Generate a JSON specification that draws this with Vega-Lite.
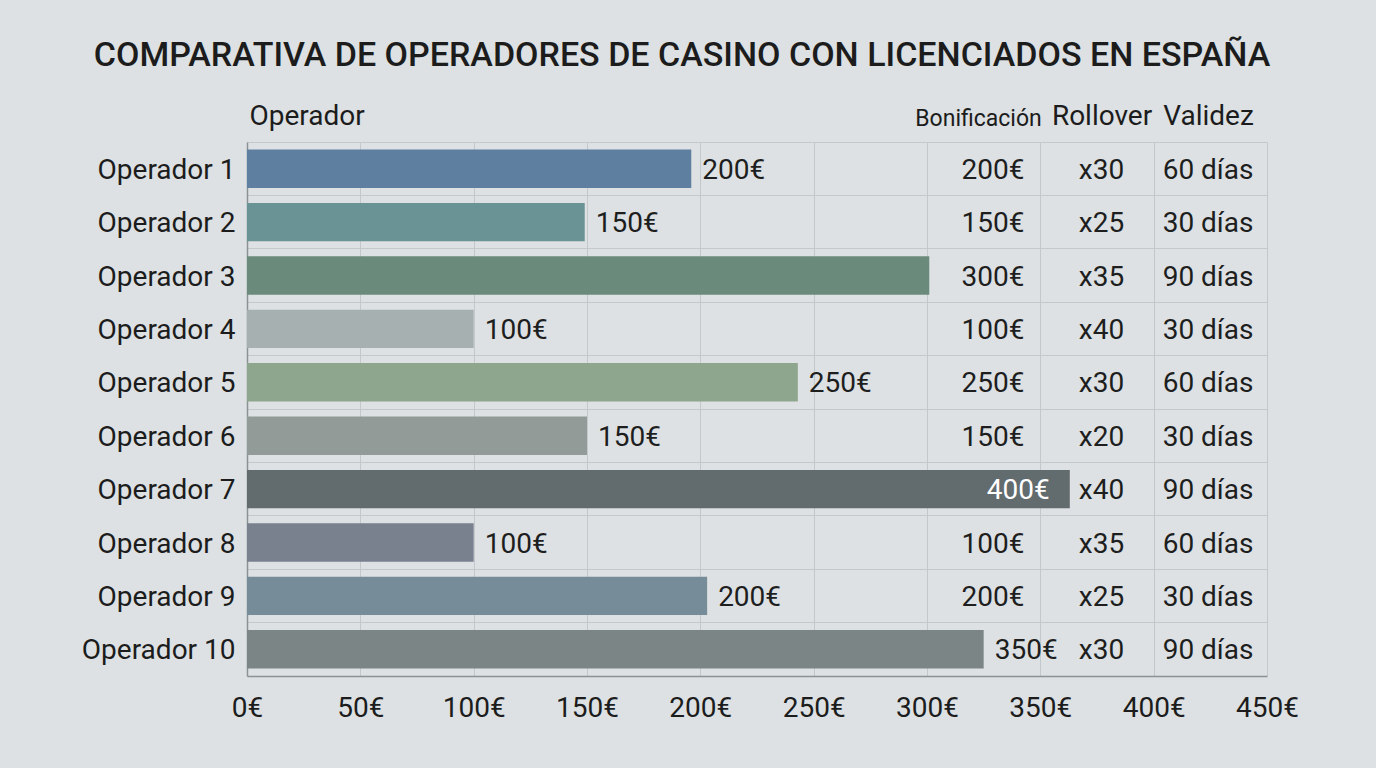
{
  "$schema": "https://vega.github.io/schema/vega-lite/v6.json",
  "width": 1020,
  "height": 534,
  "autosize": {"type": "none"},
  "padding": {"left": 247, "top": 142, "right": 109, "bottom": 92},
  "background": "#dde1e3",
  "title": {
    "text": "COMPARATIVA DE OPERADORES DE CASINO CON LICENCIADOS EN ESPAÑA",
    "font": "Roboto", "fontSize": 34, "fontWeight": 500, "color": "#1c1c1c",
    "anchor": "middle", "dx": -75, "offset": 29
  },
  "config": {
    "view": {"stroke": null},
    "font": "Roboto",
    "text": {"font": "Roboto", "fontSize": 28, "color": "#1e1e1e", "baseline": "middle", "dy": 2}
  },
  "data": {
    "values": [
      {"operador": "Operador 1", "largo": 196, "bonificacion": "200€", "rollover": "x30", "validez": "60 días"},
      {"operador": "Operador 2", "largo": 149, "bonificacion": "150€", "rollover": "x25", "validez": "30 días"},
      {"operador": "Operador 3", "largo": 301, "bonificacion": "300€", "rollover": "x35", "validez": "90 días"},
      {"operador": "Operador 4", "largo": 100, "bonificacion": "100€", "rollover": "x40", "validez": "30 días"},
      {"operador": "Operador 5", "largo": 243, "bonificacion": "250€", "rollover": "x30", "validez": "60 días"},
      {"operador": "Operador 6", "largo": 150, "bonificacion": "150€", "rollover": "x20", "validez": "30 días"},
      {"operador": "Operador 7", "largo": 363, "bonificacion": "400€", "rollover": "x40", "validez": "90 días"},
      {"operador": "Operador 8", "largo": 100, "bonificacion": "100€", "rollover": "x35", "validez": "60 días"},
      {"operador": "Operador 9", "largo": 203, "bonificacion": "200€", "rollover": "x25", "validez": "30 días"},
      {"operador": "Operador 10", "largo": 325, "bonificacion": "350€", "rollover": "x30", "validez": "90 días"}
    ]
  },
  "encoding": {
    "y": {
      "field": "operador", "type": "nominal", "sort": null,
      "scale": {"paddingInner": 0, "paddingOuter": 0},
      "axis": {
        "title": "Operador", "titleAngle": 0, "titleAlign": "left", "titleX": 2, "titleY": -18,
        "titleBaseline": "alphabetic", "titleFontSize": 28, "titleFontWeight": "normal", "titleColor": "#1c1c1c", "titleFont": "Roboto",
        "labelFontSize": 28, "labelColor": "#1c1c1c", "labelPadding": 12, "labelFont": "Roboto", "labelOffset": 2,
        "ticks": false, "domainColor": "#8c9294", "domainWidth": 1.5,
        "grid": true, "gridColor": "#c3c8cb", "gridWidth": 1, "bandPosition": 0
      }
    }
  },
  "layer": [
    {
      "mark": {"type": "bar", "height": {"band": 0.72}},
      "encoding": {
        "x": {
          "field": "largo", "type": "quantitative",
          "scale": {"domain": [0, 450], "nice": false},
          "axis": {
            "values": [0, 50, 100, 150, 200, 250, 300, 350, 400, 450],
            "labelExpr": "datum.value + '€'", "title": null,
            "grid": true, "gridColor": "#c3c8cb", "ticks": false,
            "labelFontSize": 28, "labelColor": "#1c1c1c", "labelFont": "Roboto", "labelPadding": 18,
            "labelFlush": false, "labelOverlap": false,
            "domainColor": "#8c9294", "domainWidth": 1.5
          }
        },
        "color": {
          "field": "operador", "type": "nominal", "legend": null,
          "scale": {
            "domain": ["Operador 1", "Operador 2", "Operador 3", "Operador 4", "Operador 5", "Operador 6", "Operador 7", "Operador 8", "Operador 9", "Operador 10"],
            "range": ["#5e7f9f", "#6a9396", "#6a8b7b", "#a6b0b0", "#8ea58e", "#929b97", "#626b6e", "#7a818e", "#778c99", "#7b8585"]
          }
        }
      }
    },
    {
      "transform": [{"filter": "datum.largo < 290 || (datum.largo > 310 && datum.largo < 350)"}],
      "mark": {"type": "text", "align": "left", "dx": 11},
      "encoding": {
        "x": {"field": "largo", "type": "quantitative", "scale": {"domain": [0, 450], "nice": false}, "axis": null},
        "text": {"field": "bonificacion"}
      }
    },
    {
      "transform": [{"filter": "datum.largo >= 350"}],
      "mark": {"type": "text", "align": "right", "dx": -20, "color": "#ffffff"},
      "encoding": {
        "x": {"field": "largo", "type": "quantitative", "scale": {"domain": [0, 450], "nice": false}, "axis": null},
        "text": {"field": "bonificacion"}
      }
    },
    {
      "transform": [{"filter": "datum.largo <= 310"}],
      "mark": {"type": "text", "align": "right"},
      "encoding": {
        "x": {"datum": 343, "type": "quantitative", "scale": {"domain": [0, 450], "nice": false}, "axis": null},
        "text": {"field": "bonificacion"}
      }
    },
    {
      "mark": {"type": "text", "align": "center"},
      "encoding": {
        "x": {"datum": 377, "type": "quantitative", "scale": {"domain": [0, 450], "nice": false}, "axis": null},
        "text": {"field": "rollover"}
      }
    },
    {
      "mark": {"type": "text", "align": "center"},
      "encoding": {
        "x": {
          "datum": 424, "type": "quantitative", "scale": {"domain": [0, 450], "nice": false},
          "axis": {
            "orient": "top", "values": [322.5, 377, 424],
            "labelExpr": "datum.value < 350 ? 'Bonificación' : (datum.value < 400 ? 'Rollover' : 'Validez')",
            "ticks": false, "domain": false, "grid": false, "title": null,
            "labelFont": "Roboto", "labelColor": "#1c1c1c",
            "labelFontSize": {"condition": {"test": "datum.value < 350", "value": 23}, "value": 28},
            "labelPadding": 12, "labelFlush": false, "labelOverlap": false
          }
        },
        "text": {"field": "validez"}
      }
    }
  ],
  "resolve": {"axis": {"x": "independent"}}
}
